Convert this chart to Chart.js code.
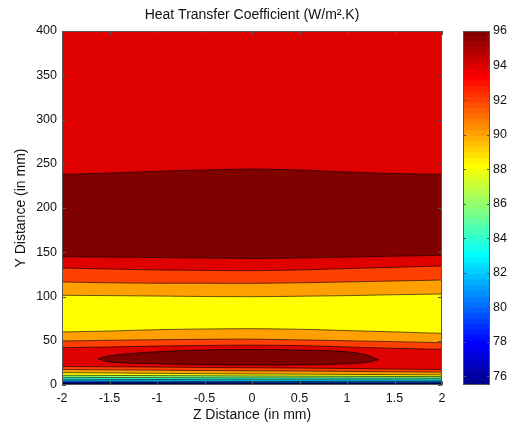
<!DOCTYPE html>
<html>
<head>
<meta charset="utf-8">
<script src="https://cdn.jsdelivr.net/npm/chart.js@4/dist/chart.umd.min.js"></script>
<style>
  html, body { margin: 0; padding: 0; background: #fff; }
  #wrap { position: relative; width: 514px; height: 425px; }
  #wrap canvas { position: absolute; left: 0; top: 0; }
</style>
</head>
<body>
<div id="wrap">
  <canvas id="map" width="514" height="425"></canvas>
  <canvas id="scaleBar" width="514" height="425"></canvas>
</div>
<script>
// Z positions (mm) where each iso-line is sampled
const zDistance = [-2, -1.5, -1, -0.5, 0, 0.5, 1, 1.5, 2];

// Iso-lines of the heat transfer coefficient: Y (mm) at each Z position
const iso96Upper = [238, 239.5, 241.5, 243, 244, 243, 240.7, 239, 238];
const iso96Lower = [145, 144.5, 144, 143.5, 143, 143.5, 144.5, 145.5, 146.5];
const iso94Upper = [132.2, 131, 130, 129.5, 129.2, 130, 131.5, 133, 134.5];
const iso92Upper = [116.4, 115.5, 115, 115, 114.9, 115.5, 116.5, 117.5, 118.6];
const iso90Upper = [101.3, 101, 100.5, 100, 99.8, 100.3, 101, 102, 102.8];
const iso88Mid   = [59.9, 61, 62.5, 63.3, 63.6, 63, 61.5, 60, 58.4];
const iso90Lower = [49.7, 50.5, 51.2, 51.6, 51.8, 51, 50, 49, 47.8];
const iso92Lower = [42.2, 43, 44, 44.7, 45, 44.5, 43, 41.5, 40.3];
const iso94Lower = [21, 20.6, 20.2, 19.8, 19.5, 19.1, 18.6, 18, 17.5];
const iso92Base  = [17.5, 17.1, 16.7, 16.3, 16, 15.7, 15.3, 14.9, 14.5];
const iso90Base  = [14, 13.6, 13.2, 12.8, 12.5, 12.3, 12, 11.7, 11.5];
const iso88Base  = [11, 10.8, 10.6, 10.4, 10.2, 10, 9.8, 9.6, 9.5];
const iso86Base  = [8.7, 8.5, 8.3, 8.1, 8, 7.9, 7.8, 7.7, 7.6];
const iso84Base  = [6.6, 6.4, 6.2, 6, 5.9, 5.8, 5.8, 5.7, 5.6];
const iso82Base  = [4.6, 4.5, 4.3, 4.1, 4, 4, 3.9, 3.9, 3.8];
const iso80Base  = [3, 2.9, 2.8, 2.7, 2.6, 2.6, 2.5, 2.5, 2.5];
const iso78Base  = [1.9, 1.9, 1.8, 1.8, 1.7, 1.7, 1.7, 1.6, 1.6];
const iso76Base  = [1, 1, 1, 0.9, 0.9, 0.9, 0.9, 0.9, 0.9];

// Closed 96 iso-line (the core near Y = 30 mm)
const coreZ      = [-1.62, -1.5, -1, -0.5, 0, 0.5, 1, 1.2, 1.33];
const coreTop    = [29.5, 33, 37.5, 39.5, 40, 39.5, 37.5, 34, 28.5];
const coreBottom = [29.5, 26, 24, 23, 22.5, 22.7, 24, 25.5, 28.5];

// Iso-lines from top to bottom, and the level of the band just below each one
const isoLines = [iso96Upper, iso96Lower, iso94Upper, iso92Upper, iso90Upper, iso88Mid,
                  iso90Lower, iso92Lower, iso94Lower, iso92Base, iso90Base, iso88Base,
                  iso86Base, iso84Base, iso82Base, iso80Base, iso78Base, iso76Base];
const levelBelow = [96, 94, 92, 90, 88, 90, 92, 94, 92, 90, 88, 86, 84, 82, 80, 78, 76, 75.5];
const topLevel = 94;   // band above the highest iso-line
const coreLevel = 96;

// Colour limits and tick labels
const cMin = 75.5, cMax = 96;
const zTicks = [-2, -1.5, -1, -0.5, 0, 0.5, 1, 1.5, 2];
const yTicks = [0, 50, 100, 150, 200, 250, 300, 350, 400];
const colorTicks = [76, 78, 80, 82, 84, 86, 88, 90, 92, 94, 96];

// 64-entry jet colormap
function jet64(idx) {
  const u = [];
  for (let k = 1; k <= 16; k++) u.push(k / 16);
  for (let k = 0; k < 15; k++) u.push(1);
  for (let k = 16; k >= 1; k--) u.push(k / 16);
  const comp = shift => { const k = idx - shift; return (k >= 1 && k <= u.length) ? u[k - 1] : 0; };
  const r = comp(24), g = comp(8), b = comp(-8);
  return `rgb(${Math.round(r * 255)},${Math.round(g * 255)},${Math.round(b * 255)})`;
}
function levelColor(v) {
  const idx = Math.max(1, Math.min(64, Math.floor((v - cMin) / (cMax - cMin) * 64) + 1));
  return jet64(idx);
}

const FONT = { family: "'Liberation Sans', Arial, sans-serif", size: 12.5 };
const TITLE_FONT = { family: "'Liberation Sans', Arial, sans-serif", size: 14, weight: 'normal' };
const TEXT = '#111';
const FRAME = '#555';

const toPoints = (xs, ys) => xs.map((x, i) => ({ x, y: ys[i] }));

// background fill for the band above the top iso-line
const areaFill = {
  id: 'areaFill',
  beforeDraw(chart, args, opts) {
    if (!opts.color) return;
    const { ctx, chartArea: a } = chart;
    ctx.save();
    ctx.fillStyle = opts.color;
    ctx.fillRect(a.left, a.top, a.right - a.left, a.bottom - a.top);
    ctx.restore();
  }
};

// axes box with inward tick marks on every side
const frame = {
  id: 'frame',
  afterDraw(chart, args, opts) {
    const { ctx, chartArea: a } = chart;
    const L = opts.tick || 4;
    ctx.save();
    ctx.strokeStyle = opts.color || FRAME;
    ctx.lineWidth = 1;
    ctx.beginPath();
    for (const s of Object.values(chart.scales)) {
      if (!s.options.display) continue;
      for (const t of s.ticks) {
        const p = Math.round(s.getPixelForValue(t.value)) + 0.5;
        if (s.isHorizontal()) {
          ctx.moveTo(p, a.bottom); ctx.lineTo(p, a.bottom - L);
          ctx.moveTo(p, a.top); ctx.lineTo(p, a.top + L);
        } else {
          ctx.moveTo(a.left, p); ctx.lineTo(a.left + L, p);
          ctx.moveTo(a.right, p); ctx.lineTo(a.right - L, p);
        }
      }
    }
    ctx.stroke();
    ctx.strokeRect(Math.round(a.left) + 0.5, Math.round(a.top) + 0.5,
                   Math.round(a.right - a.left) - 1, Math.round(a.bottom - a.top) - 1);
    ctx.restore();
  }
};

// ---- contour map ----
const datasets = [];
datasets.push({
  data: toPoints(coreZ, coreTop), order: 0, fill: '+1',
  backgroundColor: levelColor(coreLevel), borderColor: '#000', borderWidth: 0.7,
  pointRadius: 0, tension: 0.4
});
datasets.push({
  data: toPoints(coreZ, coreBottom), order: 0, fill: false,
  borderColor: '#000', borderWidth: 0.7, pointRadius: 0, tension: 0.4
});
isoLines.forEach((line, i) => {
  datasets.push({
    data: toPoints(zDistance, line),
    order: isoLines.length - i + 1,
    fill: 'start',
    backgroundColor: levelColor(levelBelow[i]),
    borderColor: '#000', borderWidth: 0.6,
    pointRadius: 0, tension: 0.3
  });
});

new Chart(document.getElementById('map'), {
  type: 'line',
  data: { datasets },
  plugins: [areaFill, frame],
  options: {
    responsive: false, animation: false, events: [],
    layout: { padding: { left: 0, right: 72, top: 0, bottom: 0 } },
    plugins: {
      legend: { display: false },
      tooltip: { enabled: false },
      filler: { drawTime: 'beforeDatasetsDraw' },
      areaFill: { color: levelColor(topLevel) },
      frame: { color: FRAME, tick: 4 },
      title: {
        display: true, fullSize: false,
        text: 'Heat Transfer Coefficient (W/m\u00B2.K)',
        color: TEXT, font: TITLE_FONT,
        padding: { top: 7, bottom: 7.2 }
      }
    },
    scales: {
      x: {
        type: 'linear', min: -2, max: 2,
        afterBuildTicks: s => { s.ticks = zTicks.map(v => ({ value: v })); },
        afterFit: s => { s.height = 40; },
        grid: { display: false, drawTicks: false },
        border: { display: false },
        ticks: { color: TEXT, font: FONT, padding: 6, maxRotation: 0, autoSkip: false,
                 callback: v => String(v) },
        title: { display: true, text: 'Z Distance (in mm)', color: TEXT,
                 font: TITLE_FONT, padding: { top: 0, bottom: 1.5 } }
      },
      y: {
        type: 'linear', min: 0, max: 400,
        afterBuildTicks: s => { s.ticks = yTicks.map(v => ({ value: v })); },
        afterFit: s => { s.width = 62; },
        grid: { display: false, drawTicks: false },
        border: { display: false },
        ticks: { color: TEXT, font: FONT, padding: 5, autoSkip: false,
                 callback: v => String(v) },
        title: { display: true, text: 'Y Distance (in mm)', color: TEXT,
                 font: TITLE_FONT, padding: { top: 12.5, bottom: 0 } }
      }
    }
  }
});

// ---- colour scale ----
const steps = [];
for (let i = 0; i < 64; i++) {
  const lo = cMin + i * (cMax - cMin) / 64;
  const hi = cMin + (i + 1) * (cMax - cMin) / 64;
  steps.push({ data: [[lo, hi]], backgroundColor: jet64(i + 1), borderWidth: 0 });
}

new Chart(document.getElementById('scaleBar'), {
  type: 'bar',
  data: { labels: [''], datasets: steps },
  plugins: [frame],
  options: {
    responsive: false, animation: false, events: [],
    grouped: false, barPercentage: 1, categoryPercentage: 1,
    layout: { padding: { left: 463, top: 31, bottom: 40, right: 0 } },
    plugins: {
      legend: { display: false },
      tooltip: { enabled: false },
      frame: { color: FRAME, tick: 3 }
    },
    scales: {
      x: { display: false },
      y: {
        position: 'right', min: cMin, max: cMax,
        afterBuildTicks: s => { s.ticks = colorTicks.map(v => ({ value: v })); },
        afterFit: s => { s.width = 24; },
        grid: { display: false, drawTicks: false },
        border: { display: false },
        ticks: { color: TEXT, font: FONT, padding: 3, autoSkip: false,
                 callback: v => String(v) }
      }
    }
  }
});
</script>
</body>
</html>
